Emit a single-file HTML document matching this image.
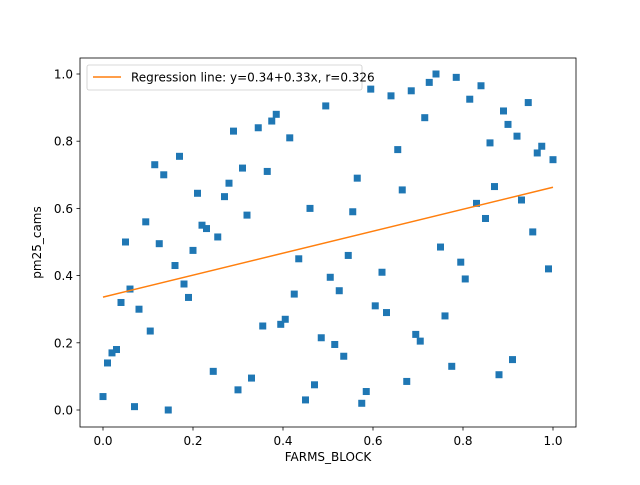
<!DOCTYPE html>
<html><head><meta charset="utf-8"><style>
body{margin:0;background:#fff}
svg text{font-family:"DejaVu Sans","Liberation Sans",sans-serif;fill:#000}
</style></head><body>
<svg id="chart" width="640" height="480" xmlns="http://www.w3.org/2000/svg"></svg>
<script>
const xs=[0,0.01,0.02,0.03,0.04,0.05,0.06,0.07,0.08,0.095,0.105,0.115,0.125,0.135,0.145,0.16,0.17,0.18,0.19,0.2,0.21,0.22,0.23,0.245,0.255,0.27,0.28,0.29,0.3,0.31,0.32,0.33,0.345,0.355,0.365,0.375,0.385,0.395,0.405,0.415,0.425,0.435,0.45,0.46,0.47,0.485,0.495,0.505,0.515,0.525,0.535,0.545,0.555,0.565,0.575,0.585,0.595,0.605,0.62,0.63,0.64,0.655,0.665,0.675,0.685,0.695,0.705,0.715,0.725,0.74,0.75,0.76,0.775,0.785,0.795,0.805,0.815,0.83,0.84,0.85,0.86,0.87,0.88,0.89,0.9,0.91,0.92,0.93,0.945,0.955,0.965,0.975,0.99,1.0];
const ys=[0.04,0.14,0.17,0.18,0.32,0.50,0.36,0.01,0.30,0.56,0.235,0.73,0.495,0.70,0.0,0.43,0.755,0.375,0.335,0.475,0.645,0.55,0.54,0.115,0.515,0.635,0.675,0.83,0.06,0.72,0.58,0.095,0.84,0.25,0.71,0.86,0.88,0.255,0.27,0.81,0.345,0.45,0.03,0.60,0.075,0.215,0.905,0.395,0.195,0.355,0.16,0.46,0.59,0.69,0.02,0.055,0.955,0.31,0.41,0.29,0.935,0.775,0.655,0.085,0.95,0.225,0.205,0.87,0.975,1.0,0.485,0.28,0.13,0.99,0.44,0.39,0.925,0.615,0.965,0.57,0.795,0.665,0.105,0.89,0.85,0.15,0.815,0.625,0.915,0.53,0.765,0.785,0.42,0.745];
const xTicks=[0,0.2,0.4,0.6,0.8,1.0];
const yTicks=[0,0.2,0.4,0.6,0.8,1.0];
const intercept=0.336, slope=0.327;
const legendText="Regression line: y=0.34+0.33x, r=0.326";

const L=80,R=576,T=58,B=427;
const sx=v=>103+v*450;
const sy=v=>410-v*336;
const svg=document.getElementById('chart');
const NS="http://www.w3.org/2000/svg";
function mk(tag,attrs,parent){const e=document.createElementNS(NS,tag);for(const k in attrs)e.setAttribute(k,attrs[k]);(parent||svg).appendChild(e);return e;}

const pts=mk('g',{});


xs.forEach((x,i)=>{
  const r=mk('rect',{x:sx(x)-3.5,y:sy(ys[i])-3.5,width:7,height:7,fill:'#1f77b4'},pts);
  
  
});
const ln=mk('line',{x1:sx(0),y1:sy(intercept),x2:sx(1),y2:sy(intercept+slope),stroke:'#ff7f0e','stroke-width':1.5});



const frame=mk('rect',{x:L,y:T,width:R-L,height:B-T,fill:'none',stroke:'#000','stroke-width':0.8});



xTicks.forEach(t=>{
  mk('line',{x1:sx(t),y1:B,x2:sx(t),y2:B+3.5,stroke:'#000','stroke-width':0.8});
  const tx=mk('text',{x:sx(t),y:B+18,'text-anchor':'middle','font-size':12});
  tx.textContent=t.toFixed(1);
  
  
});
yTicks.forEach(t=>{
  mk('line',{x1:L-3.5,y1:sy(t),x2:L,y2:sy(t),stroke:'#000','stroke-width':0.8});
  const tx=mk('text',{x:L-7,y:sy(t)+4.5,'text-anchor':'end','font-size':12});
  tx.textContent=t.toFixed(1);
  
  
});
const xl=mk('text',{x:(L+R)/2,y:B+34,'text-anchor':'middle','font-size':12});
xl.textContent='FARMS_BLOCK';


const yl=mk('text',{x:0,y:0,'text-anchor':'middle','font-size':12,transform:`translate(41,${(T+B)/2}) rotate(-90)`});
yl.textContent='pm25_cams';



const lg=mk('g',{});


mk('rect',{x:87,y:65,width:275,height:25,rx:2,fill:'#fff','fill-opacity':0.8,stroke:'#ccc','stroke-width':0.8},lg);
mk('line',{x1:93,y1:77,x2:121,y2:77,stroke:'#ff7f0e','stroke-width':1.5},lg);
const lt=mk('text',{x:131,y:81.5,'font-size':12},lg);
lt.textContent=legendText;


</script>
</body></html>
